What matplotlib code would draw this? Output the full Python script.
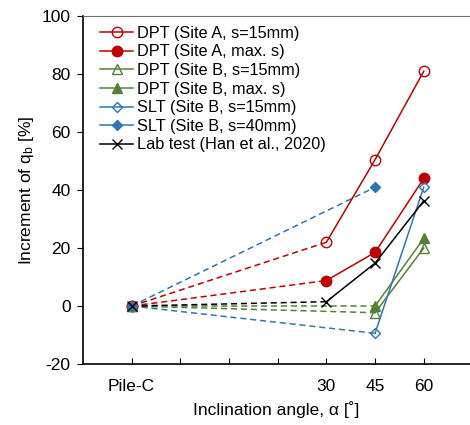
import numpy as np
import matplotlib.pyplot as plt

plt.rcParams["font.family"] = ["Liberation Sans", "DejaVu Sans"]
plt.rcParams["mathtext.fontset"] = "custom"
plt.rcParams["mathtext.rm"] = "Liberation Sans"
plt.rcParams["mathtext.it"] = "Liberation Sans:italic"
plt.rcParams["axes.unicode_minus"] = False

# categories on the x axis (Pile-C, blank slots, then angles)
x_labels = ["Pile-C", "", "", "", "30", "45", "60"]
data_cats = ["Pile-C", "30", "45", "60"]

# increment of q_b [%] at Pile-C, 30, 45, 60 deg (None = not tested)
site_a_15 = [0, 22.0, 50.5, 81.0]
site_a_max = [0, 8.8, 18.5, 44.0]
site_b_15 = [0, None, -2.3, 20.0]
site_b_max = [0, None, 0.0, 23.3]
slt_15 = [0, None, -9.4, 41.0]
slt_40 = [0, None, 41.0, None]
lab = [0, 1.5, 14.8, 36.3]

RED = "#C00000"
GREEN = "#548235"
BLUE = "#2E75B6"

series = [
    ("DPT (Site A, s=15mm)", site_a_15, RED, "o", "none", 7.5),
    ("DPT (Site A, max. s)", site_a_max, RED, "o", RED, 7.5),
    ("DPT (Site B, s=15mm)", site_b_15, GREEN, "^", "none", 7.5),
    ("DPT (Site B, max. s)", site_b_max, GREEN, "^", GREEN, 7.5),
    ("SLT (Site B, s=15mm)", slt_15, BLUE, "D", "none", 5.5),
    ("SLT (Site B, s=40mm)", slt_40, BLUE, "D", BLUE, 5.5),
    ("Lab test (Han et al., 2020)", lab, "black", "x", "black", 7),
]

pos = {lab_: i + 1 for i, lab_ in enumerate(x_labels) if lab_}

fig = plt.figure(figsize=(4.7, 4.25), dpi=100)
ax = fig.add_axes([0.1766, 0.1435, 0.8234, 0.8185])

for name, vals, color, mk, face, ms in series:
    xs = [pos[c] for c, v in zip(data_cats, vals) if v is not None]
    ys = [v for v in vals if v is not None]
    # dashed link from Pile-C to first angle point
    ax.plot(xs[:2], ys[:2], color=color, lw=1.1, ls=(0, (4, 2.5)), zorder=2)
    # solid line through the angle points
    ax.plot(xs[1:], ys[1:], color=color, lw=1.1, marker=mk, ms=ms,
            mfc=face, mec=color, mew=1.0, label=name, zorder=3)
    ax.plot(xs[:1], ys[:1], color=color, marker=mk, ms=ms, mfc=face,
            mec=color, mew=1.0, ls="none", zorder=3)

ax.set_xlim(0, 7.95)
ax.set_ylim(-20, 100)
ax.set_xticks(np.arange(1, 8))
ax.set_xticklabels(x_labels)
ax.set_yticks(np.arange(-20, 101, 20))

ax.tick_params(axis="x", direction="in", length=4, labelsize=12.5, pad=11)
ax.tick_params(axis="y", direction="out", length=4, labelsize=12.5, pad=5)

ax.spines["right"].set_visible(False)
ax.spines["top"].set_color("#707070")
ax.spines["left"].set_linewidth(1.2)
ax.spines["bottom"].set_linewidth(1.2)

ax.set_xlabel("Inclination angle, α [˚]", fontsize=12.5, labelpad=5)
ax.set_ylabel(r"Increment of q$_{\mathrm{b}}$ [%]", fontsize=12.5, labelpad=4)

ax.legend(loc="upper left", frameon=False, fontsize=11.7, handlelength=2.0,
          handletextpad=0.25, labelspacing=0.22, borderaxespad=0.2,
          bbox_to_anchor=(0.02, 1.0))

fig.savefig("out.png", dpi=100)
